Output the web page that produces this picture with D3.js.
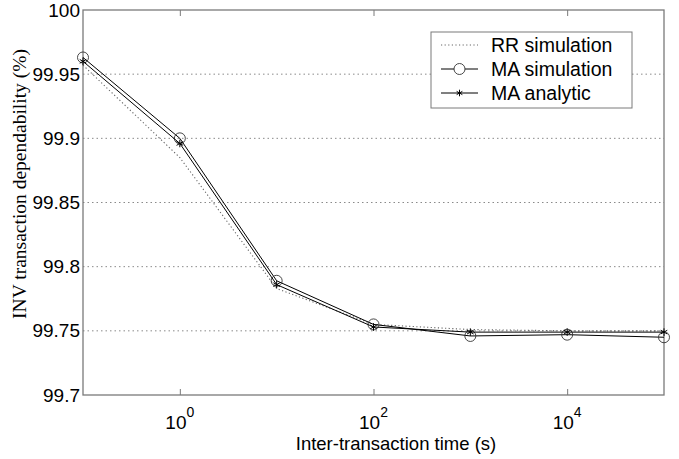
<!DOCTYPE html>
<html>
<head>
<meta charset="utf-8">
<script src="https://cdn.jsdelivr.net/npm/d3@7"></script>
<style>
  html, body { margin: 0; padding: 0; background: #fff; }
  svg { display: block; }
</style>
</head>
<body>
<svg id="chart" width="679" height="459"></svg>
<script>
// Inter-transaction time (s)
const times = [0.1, 1, 10, 100, 1000, 10000, 100000];
// Transaction dependability (%) per series
const rrSimulation = [99.957, 99.885, 99.783, 99.755, 99.751, 99.750, 99.750];
const maSimulation = [99.963, 99.900, 99.789, 99.755, 99.746, 99.747, 99.745];
const maAnalytic   = [99.960, 99.896, 99.786, 99.753, 99.749, 99.749, 99.749];
const yTicks = [99.7, 99.75, 99.8, 99.85, 99.9, 99.95, 100];
const yTickLabels = ["99.7", "99.75", "99.8", "99.85", "99.9", "99.95", "100"];
const xTickExponents = [0, 2, 4];
const legendLabels = ["RR simulation", "MA simulation", "MA analytic"];

const svg = d3.select("#chart");
const m = { left: 83, top: 10, right: 664, bottom: 395 };

const x = d3.scaleLog().domain([0.1, 100000]).range([m.left, m.right]);
const y = d3.scaleLinear().domain([99.7, 100]).range([m.bottom, m.top]);

const axisColor = "#7a7a7a";
const sans = "Liberation Sans, Arial, Helvetica, sans-serif";

// Horizontal dotted grid
svg.append("g").selectAll("line")
  .data(yTicks.filter(v => v > 99.7 && v < 100))
  .join("line")
  .attr("x1", m.left).attr("x2", m.right)
  .attr("y1", d => y(d)).attr("y2", d => y(d))
  .attr("stroke", "#8a8a8a").attr("stroke-width", 1)
  .attr("stroke-dasharray", "1.5,3");

// Frame
svg.append("rect")
  .attr("x", m.left).attr("y", m.top)
  .attr("width", m.right - m.left).attr("height", m.bottom - m.top)
  .attr("fill", "none").attr("stroke", axisColor).attr("stroke-width", 1.3);

// Y axis
const yAxis = d3.axisLeft(y).tickValues(yTicks)
  .tickFormat((d, i) => yTickLabels[i]).tickSize(0).tickPadding(3);
const gy = svg.append("g").attr("transform", `translate(${m.left},0)`).call(yAxis);
gy.select(".domain").remove();
gy.selectAll("text").attr("font-family", sans).attr("font-size", 19).attr("fill", "#000");

// X axis: ticks at every other decade, labelled as powers of ten
const xTickVals = xTickExponents.map(e => Math.pow(10, e));
const gx = svg.append("g").attr("transform", `translate(0,${m.bottom})`)
  .call(d3.axisBottom(x).tickValues(xTickVals).tickSize(-6).tickFormat(""));
gx.select(".domain").remove();
gx.selectAll("line").attr("stroke", axisColor);
// top-side ticks
svg.append("g").attr("transform", `translate(0,${m.top})`)
  .call(d3.axisTop(x).tickValues(xTickVals).tickSize(-6).tickFormat(""))
  .call(g => g.select(".domain").remove())
  .selectAll("line").attr("stroke", axisColor);

const xl = svg.append("g").selectAll("text")
  .data(xTickExponents)
  .join("text")
  .attr("x", d => x(Math.pow(10, d)))
  .attr("y", 429)
  .attr("font-family", sans).attr("font-size", 19)
  .attr("text-anchor", "middle");
xl.append("tspan").text("10");
xl.append("tspan").attr("dy", -12).attr("font-size", 14).text(d => d);

// Axis titles
svg.append("text")
  .attr("x", 396).attr("y", 450)
  .attr("text-anchor", "middle")
  .attr("font-family", sans).attr("font-size", 18.5)
  .text("Inter-transaction time (s)");

svg.append("text")
  .attr("transform", "translate(26,184) rotate(-90)")
  .attr("text-anchor", "middle")
  .attr("font-family", "Liberation Serif, Times New Roman, serif").attr("font-size", 19.5)
  .text("INV transaction dependability (%)");

const line = d3.line().x((d, i) => x(times[i])).y(d => y(d));
const plot = svg.append("g");

// RR simulation: dotted
plot.append("path").datum(rrSimulation).attr("d", line)
  .attr("fill", "none").attr("stroke", "#666").attr("stroke-width", 1.1)
  .attr("stroke-dasharray", "1.2,2.4");

// MA simulation: solid with circles
plot.append("path").datum(maSimulation).attr("d", line)
  .attr("fill", "none").attr("stroke", "#000").attr("stroke-width", 1);
plot.append("g").selectAll("circle").data(maSimulation).join("circle")
  .attr("cx", (d, i) => x(times[i])).attr("cy", d => y(d)).attr("r", 5.5)
  .attr("fill", "none").attr("stroke", "#333").attr("stroke-width", 0.9);

// MA analytic: solid with asterisks
plot.append("path").datum(maAnalytic).attr("d", line)
  .attr("fill", "none").attr("stroke", "#000").attr("stroke-width", 1);
const star = d3.symbol().type(d3.symbolAsterisk).size(40);
plot.append("g").selectAll("path").data(maAnalytic).join("path")
  .attr("transform", (d, i) => `translate(${x(times[i])},${y(d)})`)
  .attr("d", star).attr("fill", "none").attr("stroke", "#000").attr("stroke-width", 1);

// Legend
const lg = svg.append("g");
lg.append("rect").attr("x", 431).attr("y", 32).attr("width", 201).attr("height", 76)
  .attr("fill", "#fff").attr("stroke", axisColor).attr("stroke-width", 1);
const rows = [45, 69, 93];
legendLabels.forEach((lab, i) => {
  const ry = rows[i];
  const ln = lg.append("line").attr("x1", 441).attr("x2", 478).attr("y1", ry).attr("y2", ry)
    .attr("stroke", i === 0 ? "#666" : "#000").attr("stroke-width", 1);
  if (i === 0) ln.attr("stroke-dasharray", "1.2,2.4");
  if (i === 1) lg.append("circle").attr("cx", 459.5).attr("cy", ry).attr("r", 5.5)
    .attr("fill", "#fff").attr("stroke", "#333").attr("stroke-width", 0.9);
  if (i === 2) lg.append("path").attr("transform", `translate(459.5,${ry})`)
    .attr("d", d3.symbol().type(d3.symbolAsterisk).size(30)())
    .attr("fill", "none").attr("stroke", "#000");
  lg.append("text").attr("x", 491).attr("y", ry + 7)
    .attr("font-family", sans).attr("font-size", 19.5).text(lab);
});
</script>
</body>
</html>
